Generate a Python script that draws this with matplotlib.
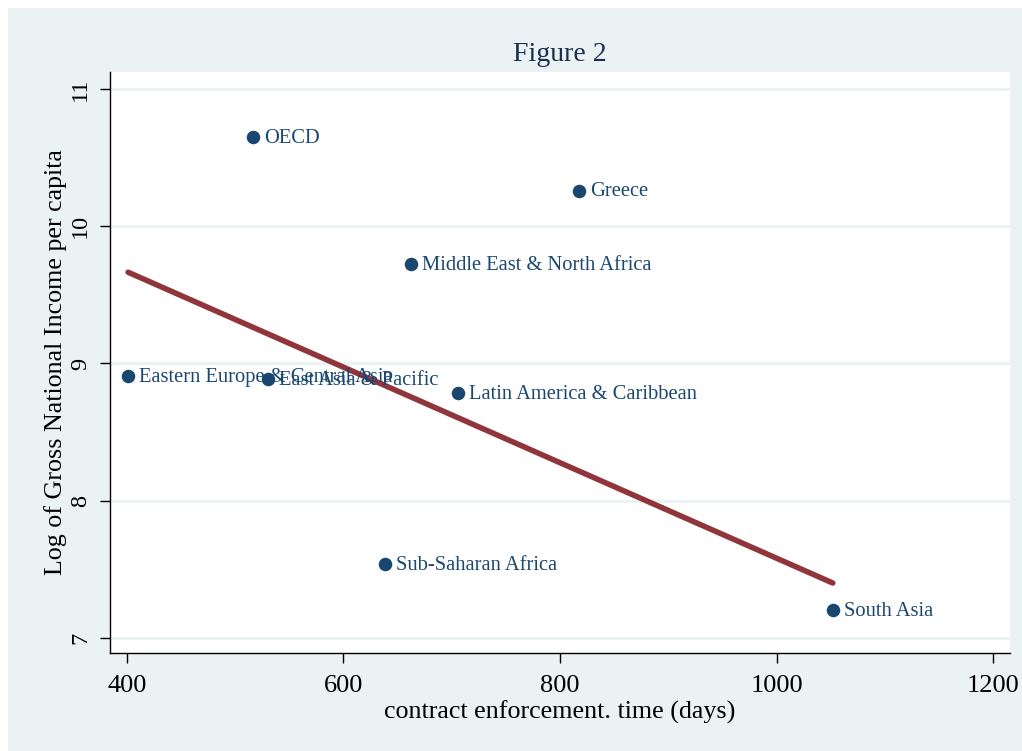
import numpy as np
import matplotlib
matplotlib.use("Agg")
import matplotlib.pyplot as plt
from matplotlib.patches import Rectangle

regions = ["OECD", "Greece", "Middle East & North Africa", "Eastern Europe & Central Asia",
           "East Asia & Pacific", "Latin America & Caribbean", "Sub-Saharan Africa", "South Asia"]
days = [516, 818, 662, 401, 530, 706, 638, 1052]
log_gni = [10.65, 10.26, 9.725, 8.91, 8.885, 8.785, 7.54, 7.205]

# fitted line
fit_days = [401, 1052]
fit_log_gni = [9.665, 7.40]

xticks = [400, 600, 800, 1000, 1200]
yticks = [7, 8, 9, 10, 11]

navy = "#1a476f"
maroon = "#90353b"
bg = "#eaf2f3"

plt.rcParams["font.family"] = ["Liberation Serif", "DejaVu Serif"]

fig = plt.figure(figsize=(10.22, 7.51), dpi=100, facecolor="white")
fig.patches.append(Rectangle((8/1022, 0), 1 - 8/1022, 1 - 8/751, transform=fig.transFigure,
                             facecolor=bg, edgecolor="none", zorder=-10))

ax = fig.add_axes([110/1022, 1 - 653/751, 900/1022, 581/751])
ax.set_facecolor("white")

ax.plot(fit_days, fit_log_gni, color=maroon, lw=4, solid_capstyle="round", zorder=3)

ax.scatter(days, log_gni, s=95, color=navy, zorder=4, linewidths=0)
for xi, yi, name in zip(days, log_gni, regions):
    ax.annotate(name, (xi, yi), xytext=(8, -1), textcoords="offset points",
                ha="left", va="center", color=navy, fontsize=14.8, zorder=5)

ax.set_xlim(384.3, 1215.7)
ax.set_ylim(6.89, 11.124)
ax.set_xticks(xticks)
ax.set_yticks(yticks)
ax.tick_params(axis="both", direction="out", length=7.5, width=1, color="black")
ax.tick_params(axis="x", labelsize=19, pad=8)
ax.tick_params(axis="y", labelsize=17.5, labelrotation=90, pad=6)
for lab in ax.get_yticklabels():
    lab.set_va("center")
ax.grid(axis="y", color=bg, lw=2, zorder=0)
ax.set_axisbelow(True)
for s in ["top", "right"]:
    ax.spines[s].set_visible(False)
for s in ["left", "bottom"]:
    ax.spines[s].set_linewidth(1)
    ax.spines[s].set_color("black")

ax.set_xlabel("contract enforcement. time (days)", fontsize=18.7, labelpad=3)
ax.set_ylabel("Log of Gross National Income per capita", fontsize=18.7, labelpad=2)
ax.set_title("Figure 2", fontsize=20, color="#1a2e4f", pad=8)

fig.savefig("out.png", dpi=100, facecolor=fig.get_facecolor())
